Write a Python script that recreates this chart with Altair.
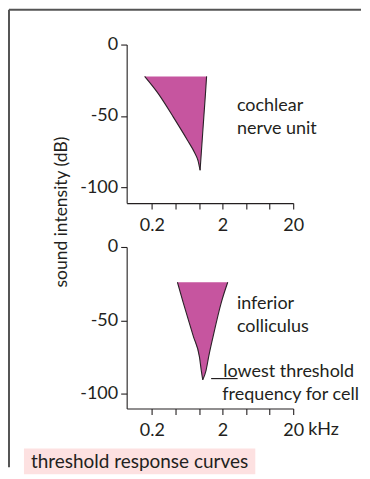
import altair as alt
import pandas as pd

# ---------------- data ----------------
# x ticks (kHz), one every third of a decade
x_ticks = [0.2, 0.43, 0.93, 2, 4.3, 9.3, 20]
y_ticks = [0, -50, -100]

# cochlear nerve unit: threshold curve (dB) with low / high frequency edges (kHz)
top_db = [-22.3, -34.2, -51, -67, -76.1, -81, -88]
top_low = [0.158, 0.245, 0.405, 0.638, 0.813, 0.897, 0.963]
top_high = [1.19, 1.148, 1.086, 1.031, 1.001, 0.985, 0.963]

# inferior colliculus
bot_db = [-24, -38, -61, -75, -84, -90.5]
bot_low = [0.46, 0.557, 0.775, 0.944, 1.0, 1.05]
bot_high = [2.37, 1.915, 1.47, 1.27, 1.17, 1.05]

# annotations (text, kHz, dB)
top_labels = ["cochlear", "nerve unit"]
top_label_x = [3.2, 3.2]
top_label_y = [-46.8, -62.4]

bot_labels = ["inferior", "colliculus", "lowest threshold", "frequency for cell"]
bot_label_x = [3.2, 3.2, 2.05, 1.98]
bot_label_y = [-42.3, -57.7, -88.8, -104.1]

pointer_x = [1.38]
pointer_x2 = [3.27]
pointer_y = [-89.6]

y_title = "sound intensity (dB)"
caption = "threshold response curves"
unit = "kHz"

# ---------------- styling ----------------
FONT = "Lato"
FS = 18
INK = "#231f20"
FILL = "#c6559f"
EDGE = "#2b2228"
FRAME = "#555555"
PINK = "#fde1e1"

W = 167
H_TOP, H_BOT = 159, 162
xscale = alt.Scale(type="log", domain=[0.088, 20])

x_label_expr = ("datum.value == 0.2 ? '0.2' : datum.value == 2 ? '2' : "
                "datum.value == 20 ? '20' : ''")


def x_axis():
    return alt.Axis(values=x_ticks, labelExpr=x_label_expr, title=None,
                    tickSize=6, labelPadding=7, labelFlush=False,
                    labelOverlap=False, grid=False)


def y_axis(with_title):
    kw = dict(values=y_ticks, labelExpr="datum.value + ''", tickSize=6,
              labelPadding=3, grid=False)
    if with_title:
        kw.update(title=y_title, titleX=-60, titleY=167.5, titleAngle=270,
                  titleBaseline="alphabetic", titleAlign="center",
                  titleFont=FONT, titleFontSize=17.5, titleFontWeight="normal",
                  titleColor=INK)
    else:
        kw.update(title=None)
    return alt.Axis(**kw)


def shape_layers(db, low, high, ydomain, with_title):
    df = pd.DataFrame({"db": db, "low": low, "high": high})
    yscale = alt.Scale(domain=ydomain, nice=False, zero=False)
    area = alt.Chart(df).mark_area(orient="horizontal", color=FILL,
                                   interpolate="monotone").encode(
        y=alt.Y("db:Q", scale=yscale, axis=y_axis(with_title)),
        x=alt.X("low:Q", scale=xscale, axis=x_axis()),
        x2="high:Q",
    )
    left = alt.Chart(df).mark_line(color=EDGE, strokeWidth=1.1, orient="horizontal",
                                   interpolate="monotone").encode(
        x=alt.X("low:Q", scale=xscale), y=alt.Y("db:Q", scale=yscale),
        order="db:Q")
    right = alt.Chart(df).mark_line(color=EDGE, strokeWidth=1.1, orient="horizontal",
                                    interpolate="monotone").encode(
        x=alt.X("high:Q", scale=xscale), y=alt.Y("db:Q", scale=yscale),
        order="db:Q")
    return area, left, right, yscale


def text_layer(labels, xs, ys, yscale):
    df = pd.DataFrame({"t": labels, "f": xs, "d": ys})
    return alt.Chart(df).mark_text(
        align="left", baseline="alphabetic", font=FONT, fontSize=FS, color=INK
    ).encode(x=alt.X("f:Q", scale=xscale), y=alt.Y("d:Q", scale=yscale), text="t:N")


one = pd.DataFrame({"k": [0]})

# ---------------- top panel ----------------
a1, l1, r1, ys1 = shape_layers(top_db, top_low, top_high, [-111, 0], True)
t1 = text_layer(top_labels, top_label_x, top_label_y, ys1)
vline = alt.Chart(one).mark_rule(color=FRAME, strokeWidth=2).encode(
    x=alt.value(-118), y=alt.value(-35), y2=alt.value(424))
hline = alt.Chart(one).mark_rule(color=FRAME, strokeWidth=2).encode(
    x=alt.value(-118), x2=alt.value(235), y=alt.value(-35))
top = alt.layer(vline, hline, a1, l1, r1, t1).properties(width=W, height=H_TOP)

# ---------------- bottom panel ----------------
a2, l2, r2, ys2 = shape_layers(bot_db, bot_low, bot_high, [-110, 0], False)
t2 = text_layer(bot_labels, bot_label_x, bot_label_y, ys2)
pdf = pd.DataFrame({"x": pointer_x, "x2": pointer_x2, "y": pointer_y})
pointer = alt.Chart(pdf).mark_rule(color=INK, strokeWidth=1.2).encode(
    x=alt.X("x:Q", scale=xscale), x2="x2:Q", y=alt.Y("y:Q", scale=ys2))
kdf = pd.DataFrame({"t": [unit], "f": [20]})
khz = alt.Chart(kdf).mark_text(
    align="left", baseline="top", font=FONT, fontSize=FS, color=INK, dx=15
).encode(x=alt.X("f:Q", scale=xscale), y=alt.value(H_BOT + 6 + 7), text="t:N")
cap_box = alt.Chart(one).mark_rect(color=PINK).encode(
    x=alt.value(-103), x2=alt.value(129), y=alt.value(202), y2=alt.value(228))
cdf = pd.DataFrame({"t": [caption]})
cap_text = alt.Chart(cdf).mark_text(
    align="left", baseline="alphabetic", font=FONT, fontSize=19, color=INK
).encode(x=alt.value(-96), y=alt.value(221.5), text="t:N")
bottom = alt.layer(cap_box, cap_text, a2, l2, r2, pointer, t2, khz).properties(
    width=W, height=H_BOT)

chart = alt.vconcat(top, bottom, spacing=44, bounds="flush").properties(
    padding=0
).configure_view(stroke=None).configure_axis(
    labelFont=FONT, labelFontSize=FS, labelColor=INK, domainColor=INK,
    tickColor=INK, domainWidth=1.1, tickWidth=1.1
)

chart.save("out.html", embed_options={"renderer": "svg", "actions": False})
